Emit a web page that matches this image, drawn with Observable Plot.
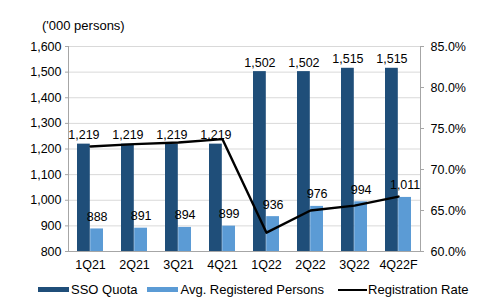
<!DOCTYPE html>
<html>
<head>
<meta charset="utf-8">
<script src="https://cdn.jsdelivr.net/npm/d3@7"></script>
<script src="https://cdn.jsdelivr.net/npm/@observablehq/plot@0.6"></script>
<style>
  body { margin: 0; background: #fff; }
  #wrap { position: relative; width: 484px; height: 298px; font-family: "Liberation Sans", Arial, sans-serif; color: #000; }
  #title { position: absolute; left: 42px; top: 18px; font-size: 13px; z-index: 2; }
  #chart { position: absolute; left: 0; top: 0; z-index: 1; }
  #legend { position: absolute; top: 282px; left: 38px; font-size: 13px; display: flex; align-items: center; white-space: nowrap; z-index: 2; }
  .sw { display: inline-block; width: 31px; height: 5px; margin-right: 2px; }
  .ln { display: inline-block; width: 29px; height: 2px; background: #000; margin-right: 1px; }
  .item { display: flex; align-items: center; }
</style>
</head>
<body>
<div id="wrap">
  <div id="chart"></div>
  <div id="title">('000 persons)</div>
  <div id="legend"></div>
</div>
<script>
const categories = ["1Q21", "2Q21", "3Q21", "4Q21", "1Q22", "2Q22", "3Q22", "4Q22F"];
const ssoQuota = [1219, 1219, 1219, 1219, 1502, 1502, 1515, 1515];
const avgRegistered = [888, 891, 894, 899, 936, 976, 994, 1011];
const registrationRate = [72.8, 73.1, 73.3, 73.7, 62.3, 65.0, 65.6, 66.7]; // %
const leftTicks = [800, 900, 1000, 1100, 1200, 1300, 1400, 1500, 1600];
const rightTicks = [60, 65, 70, 75, 80, 85]; // %
const seriesNames = ["SSO Quota", "Avg. Registered Persons", "Registration Rate"];
const colors = ["#1f4e79", "#5b9bd5", "#000000"];

// map right-axis percentage onto left-axis units (60%..85% <-> 800..1600)
const pctToLeft = p => 800 + (p - 60) / 25 * 800;
const leftToPct = v => 60 + (v - 800) / 800 * 25;

const data = categories.map((c, i) => ({cat: c, quota: ssoQuota[i], avg: avgRegistered[i], rate: registrationRate[i]}));

const W = 484, H = 275, mL = 68, mR = 64;
const step = (W - mL - mR) / categories.length;
const bw = step * 0.6;
const half = bw / 2;

const fmt = d3.format(",");

const plot = Plot.plot({
  width: W,
  height: H,
  marginTop: 46,
  marginBottom: 24,
  marginLeft: mL,
  marginRight: mR,
  style: {fontFamily: "'Liberation Sans', Arial, sans-serif", fontSize: "12px", color: "#000", background: "white"},
  x: {domain: categories, paddingInner: 0.4, paddingOuter: 0.2, label: null},
  y: {domain: [800, 1600], label: null},
  marks: [
    Plot.ruleY(leftTicks, {stroke: "#d9d9d9", strokeWidth: 1}),
    Plot.barY(data, {x: "cat", y1: 800, y2: "quota", fill: colors[0], insetRight: half}),
    Plot.barY(data, {x: "cat", y1: 800, y2: "avg", fill: colors[1], insetLeft: half}),
    Plot.ruleY([800], {stroke: "#a6a6a6", strokeWidth: 1}),
    Plot.frame({anchor: "left", stroke: "#a6a6a6"}),
    Plot.frame({anchor: "right", stroke: "#a6a6a6"}),
    Plot.line(data, {x: "cat", y: d => pctToLeft(d.rate), stroke: colors[2], strokeWidth: 2.4}),
    Plot.text(data, {x: "cat", y: "quota", text: d => fmt(d.quota), dx: -half / 2, dy: -9, fontSize: 12.5, fill: "#000"}),
    Plot.text(data, {x: "cat", y: "avg", text: d => fmt(d.avg), dx: half / 2, dy: -12, fontSize: 12.5, fill: "#000"}),
    Plot.axisY({anchor: "left", ticks: leftTicks, tickFormat: fmt, tickSize: 3, tickPadding: 4, stroke: "#a6a6a6", fontSize: 12.5, label: null}),
    Plot.axisY({anchor: "right", ticks: rightTicks.map(pctToLeft), tickFormat: v => leftToPct(v).toFixed(1) + "%", tickSize: 3, tickPadding: 7, stroke: "#a6a6a6", fontSize: 12.5, label: null}),
    Plot.axisX({tickSize: 0, tickPadding: 9, fontSize: 12.5, label: null})
  ]
});
document.getElementById("chart").appendChild(plot);

const legend = document.getElementById("legend");
legend.innerHTML =
  `<span class="item"><span class="sw" style="background:${colors[0]}"></span>${seriesNames[0]}</span>` +
  `<span class="item" style="margin-left:10px"><span class="sw" style="background:${colors[1]}"></span>${seriesNames[1]}</span>` +
  `<span class="item" style="margin-left:14px"><span class="ln"></span>${seriesNames[2]}</span>`;
</script>
</body>
</html>
